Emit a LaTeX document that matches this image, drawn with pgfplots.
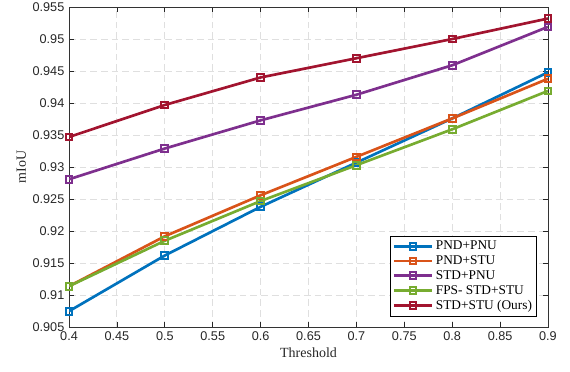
\documentclass[border=0pt]{standalone}
\usepackage{fontspec}
\setmainfont{Liberation Serif}
\newfontfamily\ticksans{Liberation Sans}
\usepackage{pgfplots}
\pgfplotsset{compat=1.18}
\definecolor{mblue}{rgb}{0,0.447,0.741}
\definecolor{morange}{rgb}{0.85,0.325,0.098}
\definecolor{mpurple}{rgb}{0.494,0.184,0.556}
\definecolor{mgreen}{rgb}{0.466,0.674,0.188}
\definecolor{mred}{rgb}{0.635,0.078,0.184}
\begin{document}
\begin{tikzpicture}
\begin{axis}[
  scale only axis, width=359pt, height=240pt,
  xmin=0.4, xmax=0.9, ymin=0.905, ymax=0.955,
  xtick={0.4,0.45,...,0.9}, ytick={0.905,0.91,...,0.955},
  xticklabels={0.4,0.45,0.5,0.55,0.6,0.65,0.7,0.75,0.8,0.85,0.9},
  yticklabels={0.905,0.91,0.915,0.92,0.925,0.93,0.935,0.94,0.945,0.95,0.955},
  tick align=inside, tick pos=both,
  major tick length=4pt,
  every tick/.style={black!85, line width=0.5pt},
  axis line style={black!80, line width=0.6pt},
  grid=major, major grid style={gray!25, line width=0.7pt, dash pattern=on 5pt off 3pt},
  tick label style={font=\ticksans\fontsize{9.5}{11}\selectfont, text=black!85},
  /pgf/number format/assume math mode=true,
  xlabel={Threshold}, ylabel={mIoU},
  label style={font=\fontsize{10.5}{12}\selectfont, text=black!85},
  xlabel style={yshift=2pt}, ylabel style={yshift=-2pt},
  legend style={at={(rel axis cs:0.977,0.034)}, anchor=south east,
    font=\fontsize{10}{12}\selectfont, draw=black, line width=0.5pt,
    row sep=-1pt, inner sep=1.5pt},
  legend cell align=left,
  legend image code/.code={\draw[mark repeat=2,mark phase=2] plot coordinates {(0cm,0cm) (0.5cm,0cm) (1cm,0cm)};},
  every axis plot/.append style={line width=2pt, mark=square, mark size=2.5pt, mark options={line width=1.5pt}},
]
\addplot[mblue] coordinates {(0.4,0.9075)(0.5,0.9162)(0.6,0.9238)(0.7,0.9307)(0.8,0.9376)(0.9,0.9448)};
\addlegendentry{PND+PNU}
\addplot[morange] coordinates {(0.4,0.9114)(0.5,0.9192)(0.6,0.9256)(0.7,0.9316)(0.8,0.9376)(0.9,0.9438)};
\addlegendentry{PND+STU}
\addplot[mpurple] coordinates {(0.4,0.9281)(0.5,0.9329)(0.6,0.9373)(0.7,0.9413)(0.8,0.9459)(0.9,0.9519)};
\addlegendentry{STD+PNU}
\addplot[mgreen] coordinates {(0.4,0.9114)(0.5,0.9185)(0.6,0.9247)(0.7,0.9303)(0.8,0.9359)(0.9,0.9419)};
\addlegendentry{FPS- STD+STU}
\addplot[mred] coordinates {(0.4,0.9347)(0.5,0.9397)(0.6,0.9440)(0.7,0.9470)(0.8,0.9500)(0.9,0.9532)};
\addlegendentry{STD+STU (Ours)}
\end{axis}
\pgfresetboundingbox
\path (current axis.south west) ++(-51.75pt,-33pt) rectangle ([xshift=16.5pt,yshift=5.25pt]current axis.north east);
\end{tikzpicture}
\end{document}
